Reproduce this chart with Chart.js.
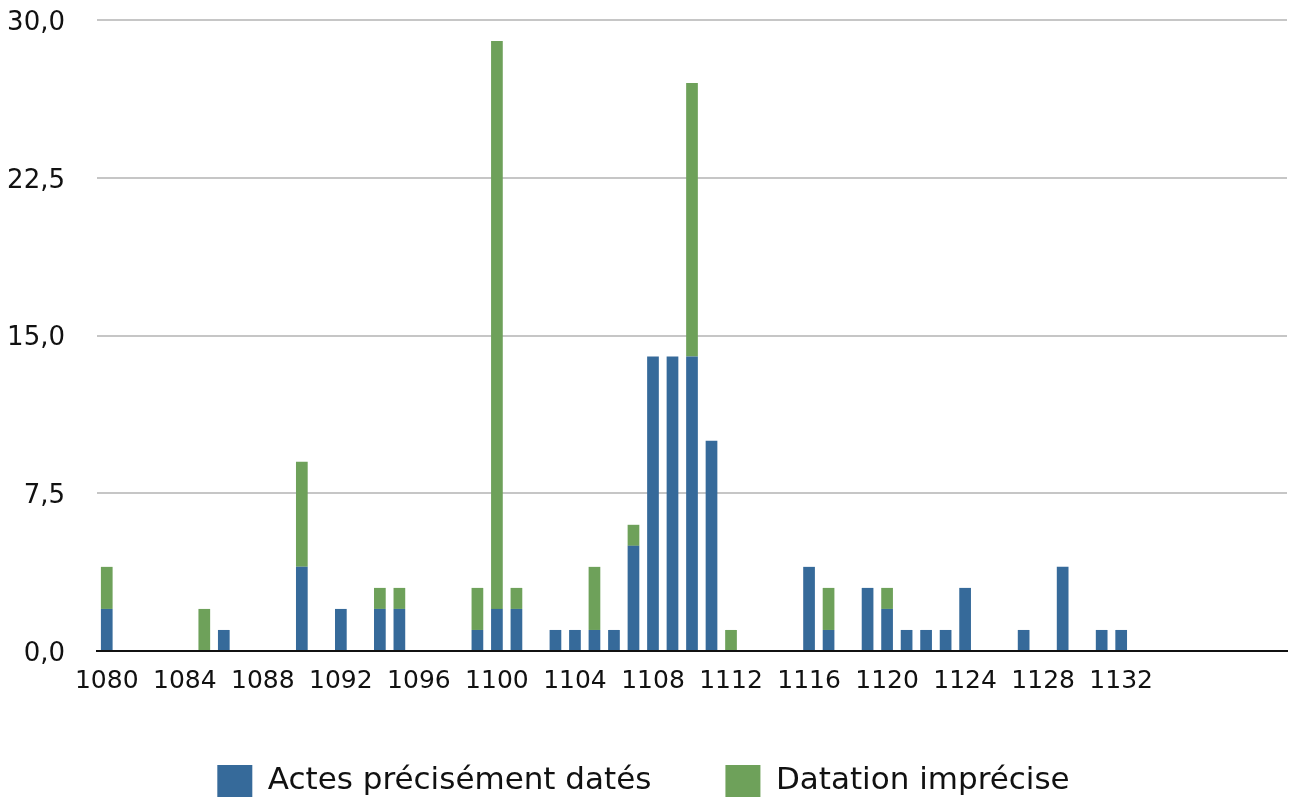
<!DOCTYPE html>
<html>
<head>
<meta charset="utf-8">
<script src="https://cdn.jsdelivr.net/npm/chart.js@4.4.1/dist/chart.umd.min.js"></script>
<style>
  html, body { margin: 0; padding: 0; background: #fff; }
  #wrap { width: 1290px; height: 798px; }
</style>
</head>
<body>
<div id="wrap"><canvas id="barChart" width="1290" height="798"></canvas></div>
<script>
const years = [
    '1080', '1081', '1082', '1083', '1084', '1085', '1086', '1087', '1088', '1089',
    '1090', '1091', '1092', '1093', '1094', '1095', '1096', '1097', '1098', '1099',
    '1100', '1101', '1102', '1103', '1104', '1105', '1106', '1107', '1108', '1109',
    '1110', '1111', '1112', '1113', '1114', '1115', '1116', '1117', '1118', '1119',
    '1120', '1121', '1122', '1123', '1124', '1125', '1126', '1127', '1128', '1129',
    '1130', '1131', '1132', '1133', '1134', '1135', '1136', '1137', '1138', '1139',
    '1140'
];

// Actes précisément datés (bleu)
const actesDates = [
    2, 0, 0, 0, 0, 0, 1, 0, 0, 0,
    4, 0, 2, 0, 2, 2, 0, 0, 0, 1,
    2, 2, 0, 1, 1, 1, 1, 5, 14, 14,
    14, 10, 0, 0, 0, 0, 4, 1, 0, 3,
    2, 1, 1, 1, 3, 0, 0, 1, 0, 4,
    0, 1, 1, 0, 0, 0, 0, 0, 0, 0,
    0
];

// Datation imprécise (vert)
const datationImprecise = [
    2, 0, 0, 0, 0, 2, 0, 0, 0, 0,
    5, 0, 0, 0, 1, 1, 0, 0, 0, 2,
    27, 1, 0, 0, 0, 3, 0, 1, 0, 0,
    13, 0, 1, 0, 0, 0, 0, 2, 0, 0,
    1, 0, 0, 0, 0, 0, 0, 0, 0, 0,
    0, 0, 0, 0, 0, 0, 0, 0, 0, 0,
    0
];

const yTicks = [0, 7.5, 15, 22.5, 30];
const lastLabelYear = 1132;

const fontFamily = "'DejaVu Sans', sans-serif";

new Chart(document.getElementById('barChart').getContext('2d'), {
    type: 'bar',
    data: {
        labels: years,
        datasets: [{
            label: 'Actes précisément datés',
            data: actesDates,
            backgroundColor: '#366a9a',
            borderWidth: 0
        }, {
            label: 'Datation imprécise',
            data: datationImprecise,
            backgroundColor: '#6ea15a',
            borderWidth: 0
        }]
    },
    options: {
        responsive: false,
        animation: false,
        devicePixelRatio: 1,
        barPercentage: 0.6,
        categoryPercentage: 1.0,
        layout: { padding: { top: 20, right: 3, left: 0, bottom: 0 } },
        plugins: {
            tooltip: { enabled: false },
            legend: {
                position: 'bottom',
                maxHeight: 107,
                labels: {
                    color: '#111',
                    font: { family: fontFamily, size: 31 },
                    boxWidth: 35,
                    boxHeight: 32,
                    padding: 74
                }
            }
        },
        scales: {
            x: {
                stacked: true,
                afterFit: (scale) => { scale.height = 40; },
                grid: { display: false },
                border: { display: true, color: '#111', width: 2 },
                ticks: {
                    autoSkip: false,
                    maxRotation: 0,
                    padding: 7,
                    color: '#111',
                    font: { family: fontFamily, size: 25 },
                    callback: function(val, i) {
                        const y = years[i];
                        return (i % 4 === 0 && Number(y) <= lastLabelYear) ? y : '';
                    }
                }
            },
            y: {
                stacked: true,
                min: 0,
                max: 30,
                afterFit: (scale) => { scale.width = 97; },
                afterBuildTicks: (scale) => { scale.ticks = yTicks.map(v => ({ value: v })); },
                grid: { color: '#c6c6c6', lineWidth: 2, tickLength: 32, tickColor: 'rgba(0,0,0,0)' },
                border: { display: false },
                ticks: {
                    padding: 0,
                    labelOffset: 3,
                    color: '#111',
                    font: { family: fontFamily, size: 26 },
                    callback: (v) => v.toFixed(1).replace('.', ',')
                }
            }
        }
    }
});
</script>
</body>
</html>
